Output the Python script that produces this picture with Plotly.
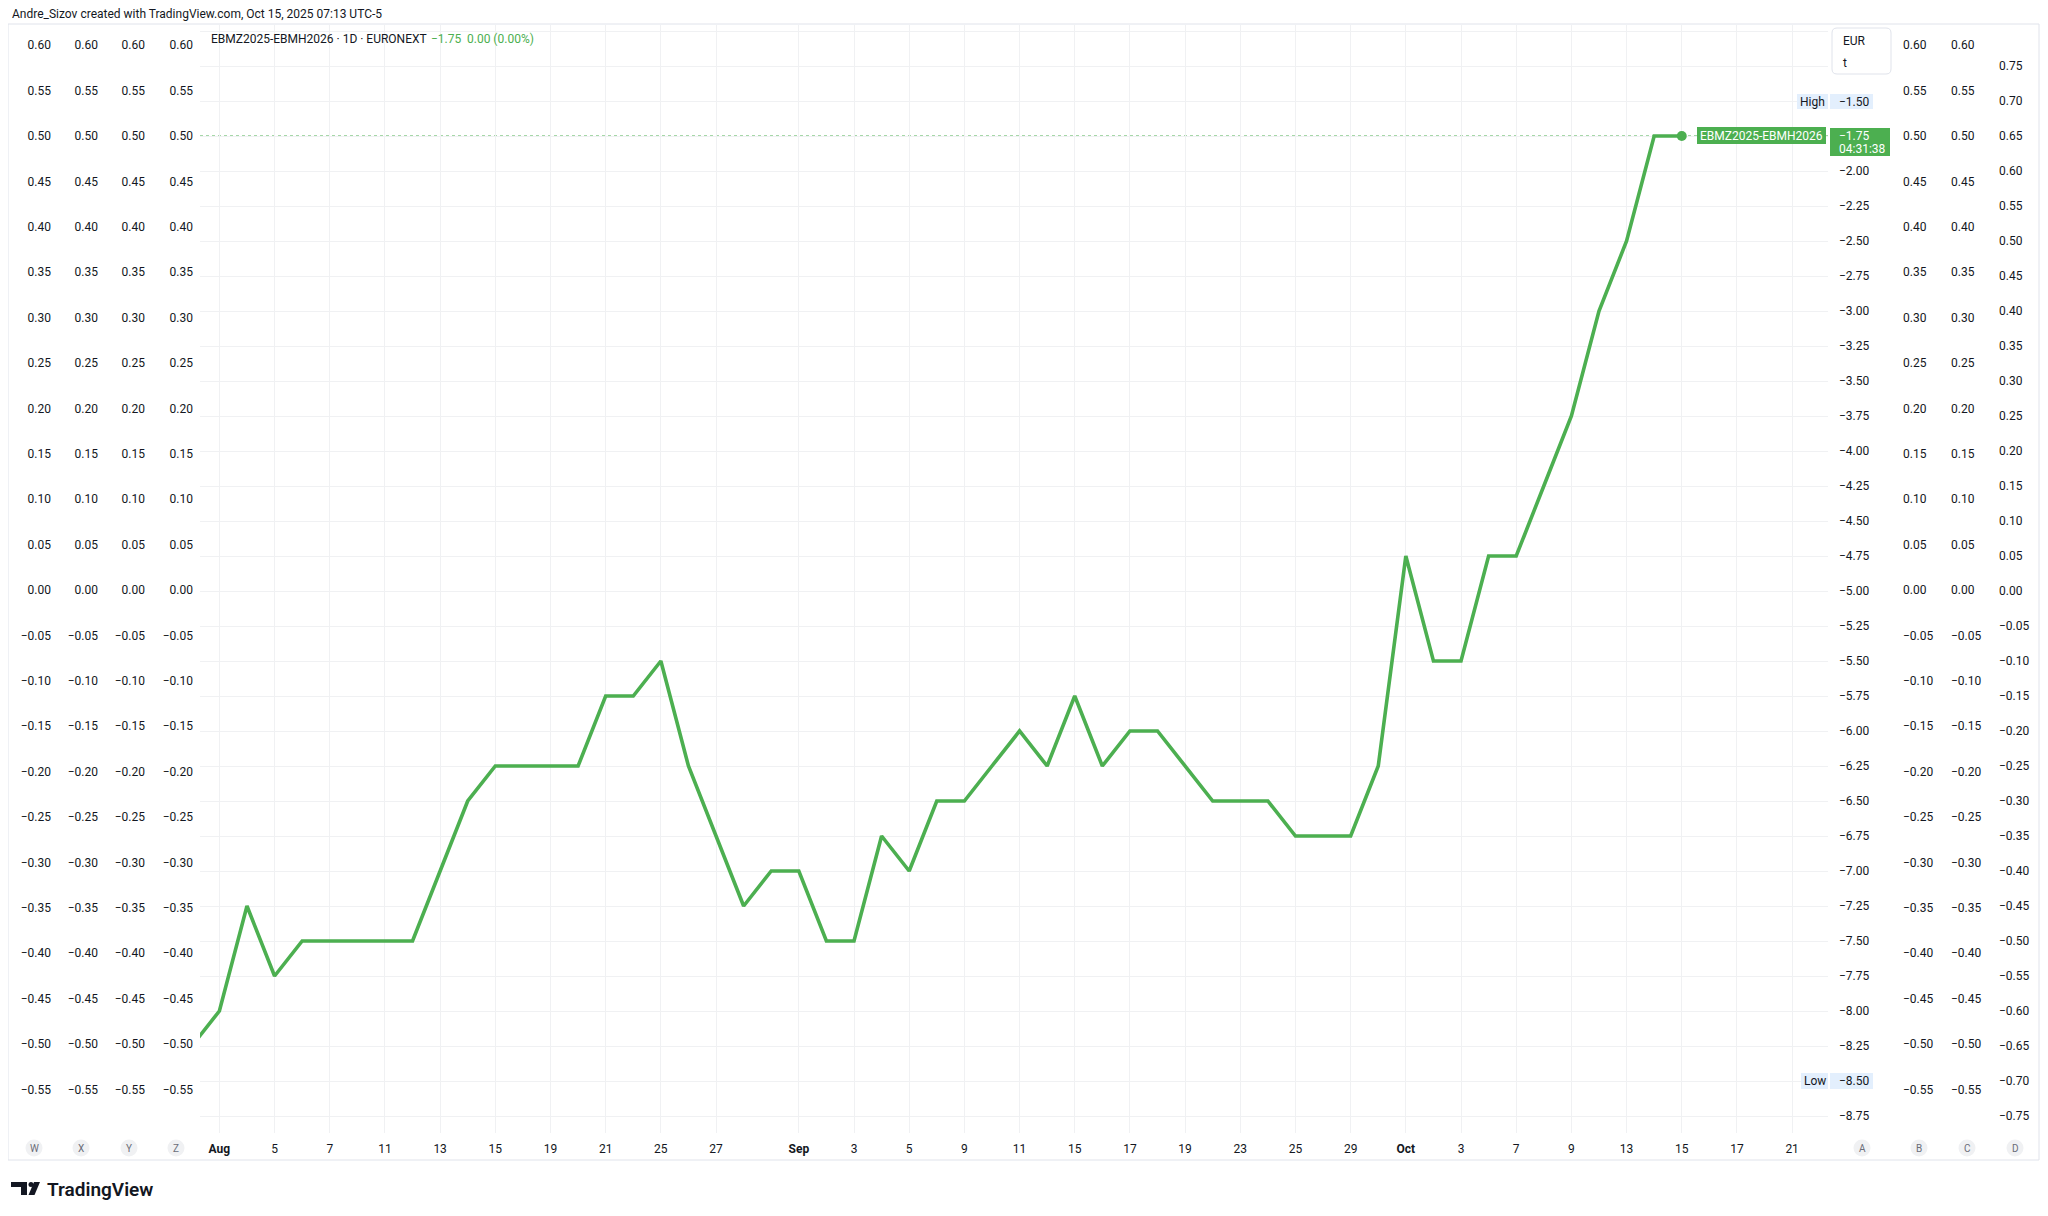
import plotly.graph_objects as go

# page is 2048x1216; the html body has an 8px margin, so the figure is 8px smaller
PAGE_W, PAGE_H, OFF = 2048, 1216, 8
W, H = PAGE_W - OFF, PAGE_H - OFF

# ---------------- data ----------------
dates = [
    "2025-07-31", "2025-08-01", "2025-08-04", "2025-08-05", "2025-08-06", "2025-08-07", "2025-08-08",
    "2025-08-11", "2025-08-12", "2025-08-13", "2025-08-14", "2025-08-15",
    "2025-08-18", "2025-08-19", "2025-08-20", "2025-08-21", "2025-08-22",
    "2025-08-25", "2025-08-26", "2025-08-27", "2025-08-28", "2025-08-29",
    "2025-09-01", "2025-09-02", "2025-09-03", "2025-09-04", "2025-09-05",
    "2025-09-08", "2025-09-09", "2025-09-10", "2025-09-11", "2025-09-12",
    "2025-09-15", "2025-09-16", "2025-09-17", "2025-09-18", "2025-09-19",
    "2025-09-22", "2025-09-23", "2025-09-24", "2025-09-25", "2025-09-26",
    "2025-09-29", "2025-09-30", "2025-10-01", "2025-10-02", "2025-10-03",
    "2025-10-06", "2025-10-07", "2025-10-08", "2025-10-09", "2025-10-10",
    "2025-10-13", "2025-10-14", "2025-10-15",
]
prices = [
    -8.25, -8.00, -7.25, -7.75, -7.50, -7.50, -7.50,
    -7.50, -7.50, -7.00, -6.50, -6.25,
    -6.25, -6.25, -6.25, -5.75, -5.75,
    -5.50, -6.25, -6.75, -7.25, -7.00,
    -7.00, -7.50, -7.50, -6.75, -7.00,
    -6.50, -6.50, -6.25, -6.00, -6.25,
    -5.75, -6.25, -6.00, -6.00, -6.25,
    -6.50, -6.50, -6.50, -6.75, -6.75,
    -6.75, -6.25, -4.75, -5.50, -5.50,
    -4.75, -4.75, -4.25, -3.75, -3.00,
    -2.50, -1.75, -1.75,
]

x_tick_dates = [
    "2025-08-01", "2025-08-05", "2025-08-07", "2025-08-11", "2025-08-13", "2025-08-15",
    "2025-08-19", "2025-08-21", "2025-08-25", "2025-08-27", "2025-09-01", "2025-09-03",
    "2025-09-05", "2025-09-09", "2025-09-11", "2025-09-15", "2025-09-17", "2025-09-19",
    "2025-09-23", "2025-09-25", "2025-09-29", "2025-10-01", "2025-10-03", "2025-10-07",
    "2025-10-09", "2025-10-13", "2025-10-15", "2025-10-17", "2025-10-21",
]
x_tick_labels = [
    "<b>Aug</b>", "5", "7", "11", "13", "15", "19", "21", "25", "27", "<b>Sep</b>", "3",
    "5", "9", "11", "15", "17", "19", "23", "25", "29", "<b>Oct</b>", "3", "7",
    "9", "13", "15", "17", "21",
]

main_ticks = [-8.75, -8.50, -8.25, -8.00, -7.75, -7.50, -7.25, -7.00, -6.75, -6.50, -6.25,
              -6.00, -5.75, -5.50, -5.25, -5.00, -4.75, -4.50, -4.25, -4.00, -3.75, -3.50,
              -3.25, -3.00, -2.75, -2.50, -2.25, -2.00, -1.75, -1.50, -1.25, -1.00]
main_hidden = [-8.50, -1.75, -1.50, -1.25, -1.00]   # covered by labels

aux_ticks = [0.60, 0.55, 0.50, 0.45, 0.40, 0.35, 0.30, 0.25, 0.20, 0.15, 0.10, 0.05, 0.00,
             -0.05, -0.10, -0.15, -0.20, -0.25, -0.30, -0.35, -0.40, -0.45, -0.50, -0.55]
d_ticks = [0.75, 0.70, 0.65, 0.60, 0.55, 0.50, 0.45, 0.40, 0.35, 0.30, 0.25, 0.20, 0.15, 0.10,
           0.05, 0.00, -0.05, -0.10, -0.15, -0.20, -0.25, -0.30, -0.35, -0.40, -0.45, -0.50,
           -0.55, -0.60, -0.65, -0.70, -0.75]

symbol = "EBMZ2025-EBMH2026"
last_price_text = "−1.75"
change_text = "0.00 (0.00%)"
countdown = "04:31:38"
high_text, low_text = "−1.50", "−8.50"

# ---------------- styling ----------------
GREEN = "#4caf50"
TXT = "#131722"
GRID = "#f0f1f3"
FONT = "Roboto, 'Noto Sans', sans-serif"
FS = 12


def px(x):
    return (x - OFF) / W


def py(y):
    return 1 - (y - OFF) / H


def fmt(v):
    s = f"{abs(v):.2f}"
    return ("−" + s) if v < -1e-9 else s


# plot area in page pixels
PL, PR, PT, PB = 200, 1828, 25, 1133
Y_REF_PX, Y_PX_PER_UNIT = 136, 140.0       # main scale: -1.75 at y=136px
A_REF_PX, A_PX_PER_UNIT = 136, 908.0       # aux scale: 0.50 at y=136px
main_range = [-1.75 - (PB - Y_REF_PX) / Y_PX_PER_UNIT, -1.75 + (Y_REF_PX - PT) / Y_PX_PER_UNIT]
aux_range = [0.50 - (PB - A_REF_PX) / A_PX_PER_UNIT, 0.50 + (A_REF_PX - PT) / A_PX_PER_UNIT]
d_range = [(main_range[0] + 5) / 5, (main_range[1] + 5) / 5]
ydom = [py(PB), py(PT)]

fig = go.Figure()
fig.add_trace(go.Scatter(x=dates, y=prices, mode="lines",
                         line=dict(color=GREEN, width=3.6), hoverinfo="skip", showlegend=False))
fig.add_trace(go.Scatter(x=[dates[-1]], y=[prices[-1]], mode="markers",
                         marker=dict(color=GREEN, size=10), hoverinfo="skip", showlegend=False))

aux_names = ["y2", "y3", "y4", "y5", "y6", "y7", "y8"]
for n in aux_names:
    fig.add_trace(go.Scatter(x=[], y=[], yaxis=n, showlegend=False, hoverinfo="skip"))

common_axis = dict(showgrid=False, zeroline=False, showline=False, ticks="",
                   tickfont=dict(family=FONT, size=FS, color=TXT), fixedrange=True)

layout = dict(
    width=W, height=H,
    margin=dict(l=0, r=0, t=0, b=0),
    paper_bgcolor="white", plot_bgcolor="white",
    showlegend=False,
    xaxis=dict(
        domain=[px(PL), px(PR)],
        range=["2025-07-31 07:08", "2025-10-22 07:12"],
        rangebreaks=[dict(bounds=["sat", "mon"])],
        tickmode="array", tickvals=x_tick_dates, ticktext=x_tick_labels,
        showgrid=True, gridcolor=GRID, gridwidth=1, zeroline=False, showline=False, ticks="",
        tickfont=dict(family=FONT, size=FS, color=TXT), ticklabelstandoff=7,
    ),
    yaxis=dict(
        domain=ydom, range=main_range, side="right", anchor="free", position=px(1838),
        tickmode="array", tickvals=main_ticks,
        ticktext=["" if v in main_hidden else fmt(v) for v in main_ticks],
        showgrid=True, gridcolor=GRID, gridwidth=1, zeroline=False, showline=False, ticks="",
        tickfont=dict(family=FONT, size=FS, color=TXT),
    ),
)

left_positions = [50, 97, 144, 192]
for i, pos in enumerate(left_positions):
    layout[f"yaxis{i + 2}"] = dict(common_axis, domain=ydom, range=aux_range, overlaying="y",
                                   side="left", anchor="free", position=px(pos + 1),
                                   tickmode="array", tickvals=aux_ticks,
                                   ticktext=[fmt(v) for v in aux_ticks])
for i, pos in enumerate([1904, 1952]):
    layout[f"yaxis{i + 6}"] = dict(common_axis, domain=ydom, range=aux_range, overlaying="y",
                                   side="right", anchor="free", position=px(pos - 2),
                                   tickmode="array", tickvals=aux_ticks,
                                   ticktext=[fmt(v) for v in aux_ticks])
layout["yaxis8"] = dict(common_axis, domain=ydom, range=d_range, overlaying="y",
                        side="right", anchor="free", position=px(2000 - 2),
                        tickmode="array", tickvals=d_ticks, ticktext=[fmt(v) for v in d_ticks])

fig.update_layout(**layout)

shapes = []
ann = []


def rect(x0, y0, x1, y1, fill, line=None):
    shapes.append(dict(type="rect", xref="paper", yref="paper",
                       x0=px(x0), x1=px(x1), y0=py(y1), y1=py(y0),
                       fillcolor=fill, line=dict(width=1 if line else 0, color=line or fill),
                       layer="above"))


def text(x, y, s, color=TXT, size=FS, anchor="left", weight=None):
    f = dict(family=FONT, size=size, color=color)
    if weight:
        f["weight"] = weight
    ann.append(dict(x=px(x), y=py(y), xref="paper", yref="paper", text=s, showarrow=False,
                    xanchor=anchor, yanchor="middle", font=f))


def rrect_path(x0, y0, x1, y1, r):
    pts = [
        f"M {px(x0 + r)},{py(y0)}", f"L {px(x1 - r)},{py(y0)}",
        f"Q {px(x1)},{py(y0)} {px(x1)},{py(y0 + r)}", f"L {px(x1)},{py(y1 - r)}",
        f"Q {px(x1)},{py(y1)} {px(x1 - r)},{py(y1)}", f"L {px(x0 + r)},{py(y1)}",
        f"Q {px(x0)},{py(y1)} {px(x0)},{py(y1 - r)}", f"L {px(x0)},{py(y0 + r)}",
        f"Q {px(x0)},{py(y0)} {px(x0 + r)},{py(y0)} Z",
    ]
    return " ".join(pts)


# outer frame
shapes.append(dict(type="rect", xref="paper", yref="paper", x0=px(8), x1=px(2039),
                   y0=py(1160), y1=py(24), line=dict(color="#e0e3eb", width=1), layer="above"))

# dotted last-price line
shapes.append(dict(type="line", xref="paper", yref="y", x0=px(PL), x1=px(PR),
                   y0=prices[-1], y1=prices[-1], line=dict(color=GREEN, width=1, dash="dot"),
                   layer="below"))

# header texts
text(10, 14, "Andre_Sizov created with TradingView.com, Oct 15, 2025 07:13 UTC-5")
text(209, 39, f"{symbol} · 1D · EURONEXT")
text(429, 39, last_price_text, color=GREEN)
text(465, 39, change_text, color=GREEN)

# EUR / t box
shapes.append(dict(type="path", xref="paper", yref="paper", path=rrect_path(1832, 28, 1891, 74, 5),
                   fillcolor="white", line=dict(color="#e0e3eb", width=1), layer="above"))
text(1841, 41, "EUR")
text(1841, 63, "t")

# symbol label + price label
rect(1697, 127, 1826, 144, GREEN)
text(1761.5, 135.5, symbol, color="white", anchor="center")
rect(1830, 128, 1890, 156, GREEN)
text(1837, 136, last_price_text, color="white")
text(1837, 149, countdown, color="white")

# High / Low labels
HL = "#e3effd"
rect(1797, 94, 1828, 109, HL)
text(1812.5, 101.5, "High", anchor="center")
rect(1830, 94, 1873, 109, HL)
text(1837, 101.5, high_text)
rect(1801, 1073, 1828, 1089, HL)
text(1814.5, 1081, "Low", anchor="center")
rect(1830, 1073, 1873, 1089, HL)
text(1837, 1081, low_text)

# scale letters in circles
for lx, letter in [(34, "W"), (81, "X"), (129, "Y"), (176, "Z"),
                   (1862, "A"), (1919, "B"), (1967, "C"), (2015, "D")]:
    shapes.append(dict(type="circle", xref="paper", yref="paper", x0=px(lx - 8.5), x1=px(lx + 8.5),
                       y0=py(1148 + 8.5), y1=py(1148 - 8.5), fillcolor="#f0f1f3",
                       line=dict(width=0), layer="above"))
    text(lx, 1148, letter, color="#6a6d78", size=10, anchor="center")

# TradingView logo
LOGO = "#131722"
shapes.append(dict(type="path", xref="paper", yref="paper", fillcolor=LOGO, line=dict(width=0),
                   path=(f"M {px(11)},{py(1182)} L {px(27)},{py(1182)} L {px(27)},{py(1195)} "
                         f"L {px(21)},{py(1195)} L {px(21)},{py(1187)} L {px(11)},{py(1187)} Z")))
shapes.append(dict(type="circle", xref="paper", yref="paper", fillcolor=LOGO, line=dict(width=0),
                   x0=px(28.5), x1=px(33.5), y0=py(1187), y1=py(1182)))
shapes.append(dict(type="path", xref="paper", yref="paper", fillcolor=LOGO, line=dict(width=0),
                   path=(f"M {px(34)},{py(1182)} L {px(40)},{py(1182)} L {px(34.5)},{py(1195)} "
                         f"L {px(28.5)},{py(1195)} Z")))
text(45, 1189, "TradingView", color=LOGO, size=19, weight=600)

fig.update_layout(shapes=shapes, annotations=ann)
fig.write_html("out.html")
